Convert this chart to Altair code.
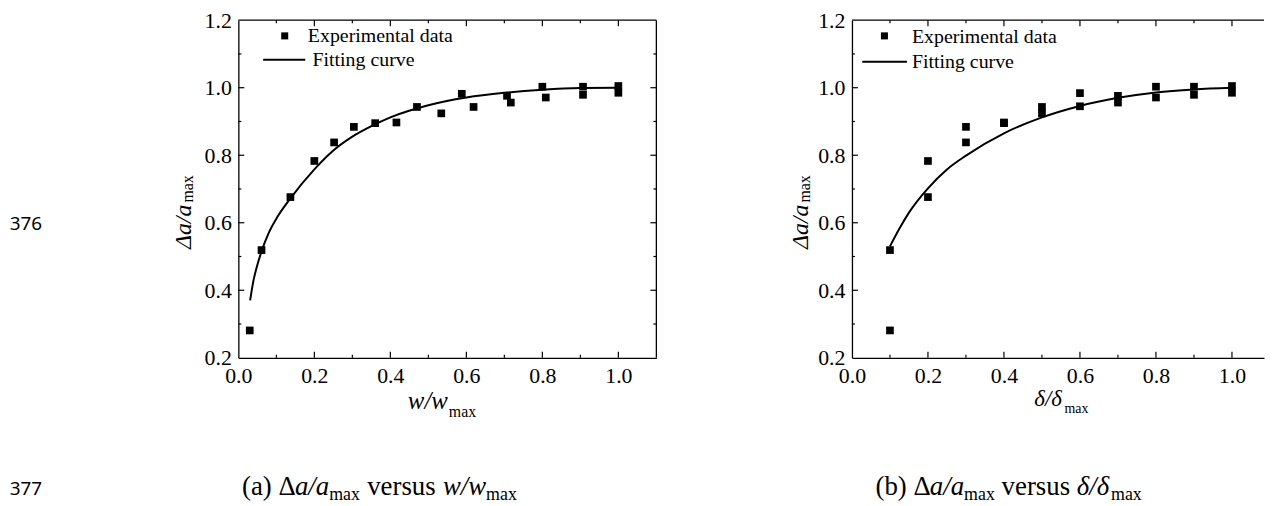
import altair as alt
import pandas as pd

# ---------------- data ----------------
left_w = [0.030, 0.061, 0.137, 0.200, 0.252, 0.304, 0.360, 0.416, 0.470, 0.534,
          0.588, 0.619, 0.707, 0.717, 0.800, 0.809, 0.907, 0.907, 1.000, 1.000]
left_a = [0.281, 0.519, 0.676, 0.783, 0.838, 0.884, 0.895, 0.897, 0.943, 0.924,
          0.982, 0.943, 0.976, 0.956, 1.003, 0.971, 1.003, 0.979, 1.005, 0.985]
right_d = [0.1, 0.1, 0.2, 0.2, 0.3, 0.3, 0.4, 0.4, 0.5, 0.5,
           0.6, 0.6, 0.7, 0.7, 0.8, 0.8, 0.9, 0.9, 1.0, 1.0]
right_a = [0.281, 0.519, 0.676, 0.783, 0.838, 0.884, 0.895, 0.897, 0.943, 0.924,
           0.984, 0.945, 0.976, 0.956, 1.003, 0.971, 1.003, 0.979, 1.005, 0.985]
fit_w_x = [0.031, 0.040, 0.050, 0.061, 0.080, 0.100, 0.137, 0.200, 0.250, 0.300,
           0.350, 0.400, 0.500, 0.600, 0.700, 0.800, 0.900, 1.000]
fit_w_y = [0.370, 0.430, 0.475, 0.515, 0.570, 0.612, 0.672, 0.758, 0.814, 0.855,
           0.886, 0.912, 0.948, 0.971, 0.985, 0.994, 0.999, 1.000]
fit_d_x = [0.100, 0.125, 0.150, 0.200, 0.250, 0.300, 0.400, 0.500, 0.600, 0.700,
           0.800, 0.900, 1.000]
fit_d_y = [0.530, 0.583, 0.630, 0.702, 0.758, 0.799, 0.865, 0.912, 0.946, 0.970,
           0.986, 0.995, 1.000]

x_labels = [0.0, 0.2, 0.4, 0.6, 0.8, 1.0]
y_labels = [0.2, 0.4, 0.6, 0.8, 1.0, 1.2]
x_major = [0.2, 0.4, 0.6, 0.8, 1.0]
x_minor = [0.1, 0.3, 0.5, 0.7, 0.9]
y_major = [0.4, 0.6, 0.8, 1.0]
y_minor = [0.3, 0.5, 0.7, 0.9, 1.1]
legend_labels = ["Experimental data", "Fitting curve"]
line_numbers = ["376", "377"]

# ---------------- layout / style ----------------
SERIF = "Liberation Serif"
SANS = "Noto Sans"
H = 340
W1, XMAX1 = 421, 1.1
W2 = 415
XMAX2 = W2 / (W1 / XMAX1)
O1 = (239.3, 17.5)   # page position of left plot origin
O2 = (856.3, 17.5)   # page position of right plot origin

W_REG = {' ': 0.25, '(': 0.333, ')': 0.333, 'a': 0.444, 'b': 0.5, 'v': 0.5, 'e': 0.444,
         'r': 0.333, 's': 0.389, 'u': 0.5, 'm': 0.778, 'x': 0.5, 'Δ': 0.612, 'δ': 0.5}
W_IT = {'a': 0.5, '/': 0.278, 'w': 0.667, 'δ': 0.5, 'Δ': 0.611, ' ': 0.25}


def tw(s, size, italic):
    tab = W_IT if italic else W_REG
    return sum(tab.get(c, 0.5) for c in s) * size


def one():
    return pd.DataFrame({"k": [0]})


def txt(s, px, py, origin, size, italic=False, angle=0, font=SERIF):
    return alt.Chart(pd.DataFrame({"t": [s]})).mark_text(
        align="left", baseline="alphabetic", font=font, fontSize=size,
        fontStyle="italic" if italic else "normal", angle=angle, color="black"
    ).encode(text="t:N", x=alt.value(px - origin[0]), y=alt.value(py - origin[1]))


def rich(pieces, x0, y0, origin, angle=0):
    """pieces: (text, size, italic, baseline shift, gap before)"""
    out = []
    adv = 0.0
    for s, size, it, dy, gap in pieces:
        adv += gap
        if angle == 0:
            out.append(txt(s, x0 + adv, y0 + dy, origin, size, it))
        else:
            out.append(txt(s, x0 + dy, y0 - adv, origin, size, it, angle=angle))
        adv += tw(s, size, it)
    return out


def rule(x=None, x2=None, y=None, y2=None, sw=1.2, color="black"):
    enc = {}
    if x is not None:
        enc["x"] = alt.value(x)
    if x2 is not None:
        enc["x2"] = alt.value(x2)
    if y is not None:
        enc["y"] = alt.value(y)
    if y2 is not None:
        enc["y2"] = alt.value(y2)
    return alt.Chart(one()).mark_rule(color=color, strokeWidth=sw).encode(**enc)


def panel(xs, ys, fx, fy, W, xmax, origin, legend, texts, anchors, right_frame):
    xs_ = alt.Scale(domain=[0, xmax], nice=False, zero=False)
    ys_ = alt.Scale(domain=[0.2, 1.2], nice=False, zero=False)
    xaxis = alt.Axis(values=x_labels, format=".1f", title=None, labelPadding=8,
                     labelFlush=False, labelOverlap=False)
    yaxis = alt.Axis(values=y_labels, format=".1f", title=None, labelPadding=7,
                     labelFlush=False, labelOverlap=False)

    def X(f):
        return alt.X(f, scale=xs_, axis=xaxis)

    def Y(f):
        return alt.Y(f, scale=ys_, axis=yaxis)

    pts = alt.Chart(pd.DataFrame({"x": xs, "y": ys})).mark_square(
        size=60, color="black", opacity=1).encode(x=X("x:Q"), y=Y("y:Q"))
    fit = alt.Chart(pd.DataFrame({"x": fx, "y": fy})).mark_line(
        color="black", strokeWidth=2, interpolate="monotone").encode(x=X("x:Q"), y=Y("y:Q"))

    def tick_layer(vals, chan, L):
        df = pd.DataFrame({"v": vals})
        layers = []
        if chan == "x":
            for ya, yb in ((H, H - L), (0, L)):
                layers.append(alt.Chart(df).mark_rule(color="black", strokeWidth=1.2).encode(
                    x=X("v:Q"), y=alt.value(ya), y2=alt.value(yb)))
        else:
            sides = [(0, L)] + ([(W, W - L)] if right_frame else [])
            for xa, xb in sides:
                layers.append(alt.Chart(df).mark_rule(color="black", strokeWidth=1.2).encode(
                    y=Y("v:Q"), x=alt.value(xa), x2=alt.value(xb)))
        return layers

    layers = [pts, fit]
    layers += tick_layer(x_major, "x", 6) + tick_layer(x_minor, "x", 3)
    layers += tick_layer(y_major, "y", 6) + tick_layer(y_minor, "y", 3)
    layers.append(rule(x=0, x2=W, y=0, sw=1.3))
    if right_frame:
        layers.append(rule(x=W, y=0, y2=H, sw=1.3))
    # legend
    (sqx, sqy), (lx1, lx2, ly) = legend["square"], legend["line"]
    layers.append(alt.Chart(one()).mark_square(size=50, color="black", opacity=1).encode(
        x=alt.value(sqx - origin[0]), y=alt.value(sqy - origin[1])))
    layers.append(rule(x=lx1 - origin[0], x2=lx2 - origin[0], y=ly - origin[1], sw=2))
    layers += texts
    for ax, ay in anchors:
        layers.append(rule(x=ax, x2=ax, y=ay, y2=ay + 1, sw=0.5, color="white"))
    return alt.layer(*layers).properties(width=W, height=H)


# ---------- texts of the left panel ----------
CF, CS = 27, 18
t1 = []
t1 += rich([("Δa/a", 24, True, 0, 0), ("max", 16, False, 1.8, 1.5)], 191.5, 248, O1, angle=270)
t1 += rich([("w/w", 25, True, 0, 0), ("max", 16, False, 8, 1)], 410, 409, O1)
t1.append(txt(legend_labels[0], 309.3, 39.5, O1, 20))
t1.append(txt(legend_labels[1], 314.0, 63.5, O1, 20))
t1 += rich([("(a)", CF, False, 0, 0), ("Δ", CF, False, 0, 0.25 * CF), ("a/a", CF, True, 0, 0),
            ("max", CS, False, 5, 0), ("versus", CF, False, 0, 0.27 * CF),
            ("w/w", CF, True, 0, 0.27 * CF), ("max", CS, False, 5, 0)], 243, 496, O1)
t1.append(txt(line_numbers[0], 9, 229, O1, 19, font=SANS))
t1.append(txt(line_numbers[1], 9, 496, O1, 19, font=SANS))

# ---------- texts of the right panel ----------
t2 = []
t2 += rich([("Δa/a", 24, True, 0, 0), ("max", 16, False, 1.8, 1.5)], 812, 248, O2, angle=270)
t2 += rich([("δ/δ", 23, True, 0, 0), ("max", 14, False, 7, 1)], 1040, 406, O2)
t2.append(txt(legend_labels[0], 916.7, 40.5, O2, 20))
t2.append(txt(legend_labels[1], 916.7, 65.5, O2, 20))
t2 += rich([("(b)", CF, False, 0, 0), ("Δ", CF, False, 0, 0.25 * CF), ("a/a", CF, True, 0, 0),
            ("max", CS, False, 5, 0), ("versus", CF, False, 0, 0.25 * CF),
            ("δ/δ", CF, True, 0, 0.25 * CF), ("max", CS, False, 5, 0)], 880, 496, O2)

left = panel(left_w, left_a, fit_w_x, fit_w_y, W1, XMAX1, O1,
             {"square": (286, 33.3), "line": (264.3, 306.7, 57.3)}, t1,
             [(-231.3, -12), (440, 0)], True)
right = panel(right_d, right_a, fit_d_x, fit_d_y, W2, XMAX2, O2,
              {"square": (889, 33.3), "line": (866.7, 911.7, 59.3)}, t2,
              [(-80, -12)], False)

chart = alt.hconcat(left, right, spacing=96).properties(
    padding={"left": 0, "top": -2.5, "right": 0, "bottom": 0}
).configure_view(stroke=None).configure_axis(
    labelFont=SERIF, labelFontSize=22, labelColor="black", domainColor="black",
    domainWidth=1.3, ticks=False, tickSize=0, grid=False
)

chart.save("out.html", embed_options={"renderer": "svg", "actions": False})
